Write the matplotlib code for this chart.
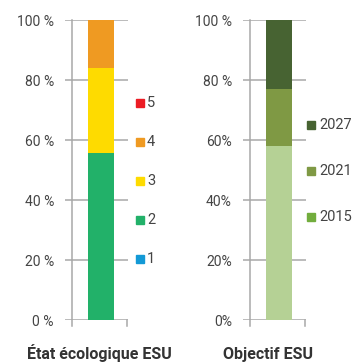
import matplotlib.pyplot as plt
from matplotlib import rcParams

rcParams['font.family'] = ['Liberation Sans Narrow', 'Roboto', 'DejaVu Sans']

# Ecological state shares (class 1 at the bottom, class 5 at the top)
etat_classes = ['1', '2', '3', '4', '5']
etat_values = [0.0, 55.7, 28.3, 16.0, 0.0]
etat_colors = ['#1399D6', '#22B169', '#FEDB00', '#EF9A22', '#EC1C24']

# Objective shares per deadline
obj_years = ['2015', '2021', '2027']
obj_values = [58.0, 19.0, 23.0]
obj_colors = ['#B5D195', '#7F9944', '#476332']
obj_legend_colors = ['#72AD3D', '#7F9944', '#476332']

etat_ticks = ['0 %', '20 %', '40 %', '60 %', '80 %', '100 %']
obj_ticks = ['0%', '20%', '40%', '60%', '80 %', '100 %']

W, H = 352, 362
dpi = 100
fig = plt.figure(figsize=(W / dpi, H / dpi), dpi=dpi)

grey = '#A8A8A8'
txt = '#444444'


def px_axes(x0, x1, ytop, ybot):
    return fig.add_axes([x0 / W, 1 - ybot / H, (x1 - x0) / W, (ybot - ytop) / H])


def stacked(ax, values, colors, ticklabels):
    ax.set_xlim(0, 63)
    ax.set_ylim(0, 100)
    for s in ax.spines.values():
        s.set_visible(False)
    ax.set_xticks([])
    ax.set_yticks(range(0, 101, 20))
    ax.set_yticklabels(ticklabels)
    ax.tick_params(axis='y', length=0, pad=8, labelsize=10, labelcolor=txt)
    ax.yaxis.grid(True, color=grey, lw=1.1)
    ax.set_axisbelow(True)
    bottom = 0
    for v, c in zip(values, colors):
        ax.bar(36, v, width=26, bottom=bottom, color=c, zorder=3)
        bottom += v
    # vertical axis line plus the two small end ticks below the baseline
    ax.plot([7, 7], [-2, 100], color=grey, lw=1.1, clip_on=False, zorder=2)
    ax.plot([62, 62], [-2, 0], color=grey, lw=1.1, clip_on=False, zorder=2)


def side_legend(ax, labels, colors, x_sq, x_txt, y_first, step, ms):
    for i, (lab, col) in enumerate(zip(labels[::-1], colors[::-1])):
        y = y_first - i * step
        ax.plot(x_sq, y, 's', color=col, ms=ms, clip_on=False)
        ax.text(x_txt, y, lab, va='center', ha='left', fontsize=10.5, color=txt)


ax1 = px_axes(65, 128, 20, 320)
stacked(ax1, etat_values, etat_colors, etat_ticks)
side_legend(ax1, etat_classes, etat_colors, 75, 82, 72.4, 13.0, 5.8)

ax2 = px_axes(243, 306, 20, 320)
stacked(ax2, obj_values, obj_colors, obj_ticks)
side_legend(ax2, obj_years, obj_legend_colors, 67.5, 76, 65.0, 15.33, 5.4)

fig.text(27 / W, 1 - 359 / H, 'État écologique ESU', ha='left', va='baseline',
         fontsize=11.5, fontweight='bold', color='#333333')
fig.text(223 / W, 1 - 359 / H, 'Objectif ESU', ha='left', va='baseline',
         fontsize=11.5, fontweight='bold', color='#333333')

fig.savefig('out.png', dpi=dpi)
